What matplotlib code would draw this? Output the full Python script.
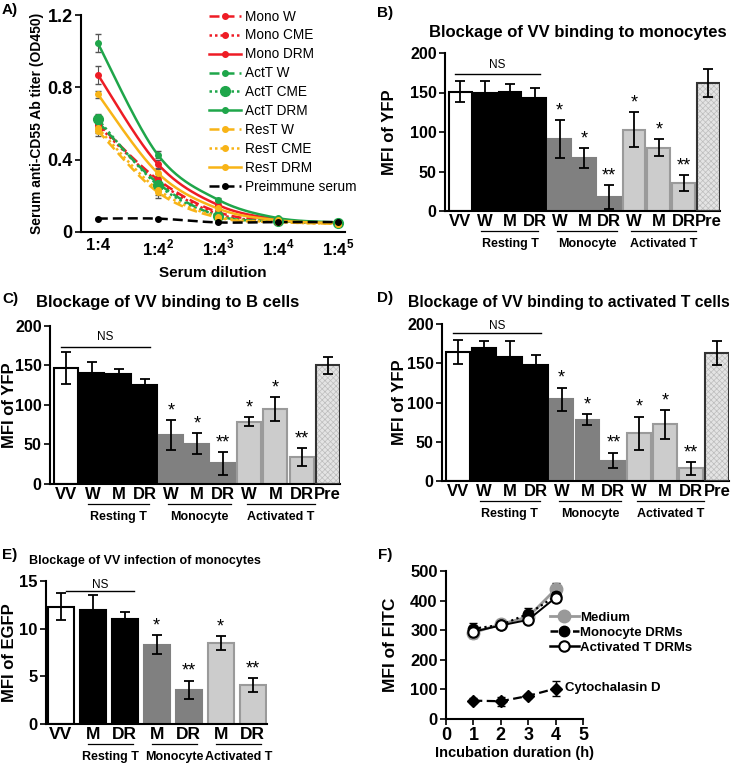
import numpy as np
import matplotlib
matplotlib.use("Agg")
import matplotlib.pyplot as plt
from matplotlib.transforms import blended_transform_factory

plt.rcParams['font.family'] = ['Liberation Sans', 'DejaVu Sans']
plt.rcParams['mathtext.fontset'] = 'custom'
plt.rcParams['mathtext.bf'] = 'Liberation Sans:bold'
plt.rcParams['mathtext.rm'] = 'Liberation Sans'
plt.rcParams['hatch.linewidth'] = 0.5

# ---------------- Data ----------------
# Panel A
dilution_exps = ['', '2', '3', '4', '5']
a_mono_w = [0.60, 0.29, 0.11, 0.06, 0.05]
a_mono_cme = [0.59, 0.28, 0.10, 0.06, 0.05]
a_mono_drm = [0.87, 0.376, 0.15, 0.07, 0.05]
a_act_w = [0.61, 0.27, 0.09, 0.06, 0.05]
a_act_cme = [0.624, 0.26, 0.09, 0.06, 0.05]
a_act_drm = [1.044, 0.427, 0.179, 0.077, 0.053]
a_res_w = [0.56, 0.22, 0.08, 0.055, 0.045]
a_res_cme = [0.575, 0.235, 0.085, 0.055, 0.045]
a_res_drm = [0.762, 0.326, 0.13, 0.065, 0.05]
a_pre = [0.074, 0.074, 0.053, 0.055, 0.055]
a_err_mono_drm = [0.05, 0.02, 0.01, 0.005, 0.005]
a_err_act_drm = [0.05, 0.02, 0.01, 0.005, 0.005]
a_err_res_drm = [0.02, 0.02, 0.01, 0.005, 0.005]
a_err_other = [0.03, 0.03, 0.01, 0.005, 0.005]

# Panels B, C, D
bar_labels = ['VV', 'W', 'M', 'DR', 'W', 'M', 'DR', 'W', 'M', 'DR', 'Pre']
b_vals = [151, 150, 151, 143, 91, 67, 18, 103, 80, 35, 162]
b_errs = [13, 15, 10, 13, 24, 13, 15, 22, 11, 10, 18]
c_vals = [147, 141, 139, 125, 62, 51, 26, 79, 95, 34, 150]
c_errs = [20, 14, 7, 8, 19, 13, 14, 6, 15, 11, 11]
d_vals = [164, 170, 158, 148, 104, 78, 26, 61, 72, 16, 163]
d_errs = [15, 8, 20, 13, 15, 7, 10, 21, 18, 8, 15]
bcd_stars = ['', '', '', '', '*', '*', '**', '*', '*', '**', '']
groups = ['Resting T', 'Monocyte', 'Activated T']

# Panel E
e_labels = ['VV', 'M', 'DR', 'M', 'DR', 'M', 'DR']
e_vals = [12.3, 12.0, 11.0, 8.3, 3.6, 8.5, 4.1]
e_errs = [1.4, 1.5, 0.7, 1.0, 0.95, 0.7, 0.75]
e_stars = ['', '', '', '*', '**', '*', '**']

# Panel F
f_time = [1, 2, 3, 4]
f_medium = [292, 320, 345, 438]
f_medium_err = [20, 10, 12, 20]
f_mono = [305, 318, 355, 415]
f_mono_err = [18, 10, 20, 15]
f_act = [295, 316, 335, 410]
f_act_err = [15, 8, 10, 15]
f_cyto = [62, 60, 78, 103]
f_cyto_err = [8, 15, 8, 25]

RED = '#EE1C25'
GREEN = '#1FA64A'
YEL = '#F8B417'

W, H = 750, 764
fig = plt.figure(figsize=(7.5, 7.64), dpi=100)


def add_ax(l, r, t, b):
    return fig.add_axes([l / W, 1 - b / H, (r - l) / W, (b - t) / H])


def style(ax, lw=1.5):
    for s in ['top', 'right']:
        ax.spines[s].set_visible(False)
    for s in ['left', 'bottom']:
        ax.spines[s].set_linewidth(lw)
        ax.spines[s].set_color('black')


def smooth(x, y, n=40):
    x = np.asarray(x, float)
    y = np.asarray(y, float)
    xs, ys = [], []
    m = len(x)
    for i in range(m - 1):
        p0 = np.array([x[max(i - 1, 0)], y[max(i - 1, 0)]])
        p1 = np.array([x[i], y[i]])
        p2 = np.array([x[i + 1], y[i + 1]])
        p3 = np.array([x[min(i + 2, m - 1)], y[min(i + 2, m - 1)]])
        t = np.linspace(0, 1, n)[:, None]
        c1 = p1 + (p2 - p0) / 6.0
        c2 = p2 - (p3 - p1) / 6.0
        pts = ((1 - t) ** 3) * p1 + 3 * ((1 - t) ** 2) * t * c1 + 3 * (1 - t) * t ** 2 * c2 + t ** 3 * p2
        xs.extend(pts[:, 0])
        ys.extend(pts[:, 1])
    return np.array(xs), np.array(ys)


# ---------------- Panel A ----------------
axA = add_ax(81, 345, 15, 232)
style(axA)
xa = np.arange(1, 6)
series = [
    ('Mono W', a_mono_w, RED, (0, (4, 2)), 4, a_err_other),
    ('Mono CME', a_mono_cme, RED, (0, (1, 1.2)), 4, a_err_other),
    ('Mono DRM', a_mono_drm, RED, '-', 4, a_err_mono_drm),
    ('ActT W', a_act_w, GREEN, (0, (4, 2)), 4, a_err_other),
    ('ActT CME', a_act_cme, GREEN, (0, (1, 1.2)), 7, a_err_other),
    ('ActT DRM', a_act_drm, GREEN, '-', 4, a_err_act_drm),
    ('ResT W', a_res_w, YEL, (0, (4, 2)), 4, a_err_other),
    ('ResT CME', a_res_cme, YEL, (0, (1, 1.2)), 4, a_err_other),
    ('ResT DRM', a_res_drm, YEL, '-', 4, a_err_res_drm),
    ('Preimmune serum', a_pre, 'black', (0, (4, 2)), 4, [0.003] * 5),
]
handles = []
for name, y, col, ls, ms, err in series:
    axA.errorbar(xa, y, yerr=err, fmt='none', ecolor='#555555', elinewidth=0.8, capsize=2, zorder=2)
    sx, sy = smooth(xa, y)
    axA.plot(sx, sy, color=col, ls=ls, lw=1.8, zorder=3)
    axA.plot(xa, y, ls='none', marker='o', ms=ms, color=col, zorder=4)
    h, = axA.plot([], [], color=col, ls=ls, lw=1.8, marker='o', ms=ms)
    handles.append(h)
axA.set_xlim(0.72, 5.12)
axA.set_ylim(0, 1.2)
axA.set_yticks([0, 0.4, 0.8, 1.2])
axA.set_yticklabels(['0', '0.4', '0.8', '1.2'], fontsize=13, fontweight='bold')
axA.set_xticks(xa)
axA.set_xticklabels(['1:4' + (r'$^{\mathbf{%s}}$' % e if e else '') for e in dilution_exps],
                    fontsize=12, fontweight='bold')
axA.tick_params(axis='x', length=0, pad=4)
axA.tick_params(axis='y', length=4, width=1.2, direction='out', pad=2)
axA.set_ylabel('Serum anti-CD55 Ab titer (OD450)', fontsize=10, fontweight='bold')
axA.yaxis.set_label_coords(-0.14, 0.5)
axA.set_xlabel('Serum dilution', fontsize=11, fontweight='bold', labelpad=6)
axA.legend(handles, [s[0] for s in series], loc='upper left', bbox_to_anchor=(0.465, 1.05),
           frameon=False, fontsize=9.8, handlelength=2.3, labelspacing=0.36, handletextpad=0.3,
           borderaxespad=0)
fig.text(2 / W, 1 - 10 / H, 'A)', fontsize=11, fontweight='bold', va='center', ha='left')


# ---------------- Bar panels ----------------
def bar_panel(ax, vals, errs, labels, stars, colors, edges, width, xlim, ylim, yticks,
              ns_x, ns_y, ns_text_y, grp_spans, tick_fs=12, ytick_fs=11.5):
    style(ax)
    x = np.arange(len(vals))
    for i in range(len(vals)):
        c = colors[i]
        if c == 'hatch':
            ax.bar(x[i], vals[i], width=width, color='#e4e4e4', edgecolor='#bdbdbd',
                   hatch='xxxxxx', linewidth=0, zorder=2)
            ax.bar(x[i], vals[i], width=width, fill=False, edgecolor='#333333', linewidth=1.5, zorder=3)
        else:
            ax.bar(x[i], vals[i], width=width, color=c, edgecolor=edges[i], linewidth=1.5, zorder=2)
    ax.errorbar(x, vals, yerr=errs, fmt='none', ecolor='black', elinewidth=1.3, capsize=3.5,
                capthick=1.3, zorder=4)
    for i, s in enumerate(stars):
        if s:
            ax.text(x[i], vals[i] + errs[i] + (ylim[1] * 0.005), s, ha='center', va='bottom',
                    fontsize=13, zorder=5)
    ax.set_xlim(*xlim)
    ax.set_ylim(*ylim)
    ax.set_yticks(yticks)
    ax.set_yticklabels([str(v) for v in yticks], fontsize=ytick_fs, fontweight='bold')
    ax.set_xticks(x)
    ax.set_xticklabels(labels, fontsize=tick_fs, fontweight='bold')
    ax.tick_params(axis='x', length=0, pad=2)
    ax.tick_params(axis='y', length=4, width=1.2, direction='out', pad=2)
    ax.plot(ns_x, [ns_y, ns_y], color='black', lw=1.0, clip_on=False, zorder=5)
    ax.text(np.mean(ns_x), ns_text_y, 'NS', ha='center', va='center', fontsize=8.5)
    trans = blended_transform_factory(ax.transData, ax.transAxes)
    axh = ax.get_position().height * H
    for (a0, a1), g in zip(grp_spans, groups):
        ax.plot([a0, a1], [-20 / axh, -20 / axh], color='black', lw=0.9, transform=trans, clip_on=False)
        ax.text((a0 + a1) / 2, -33 / axh, g, transform=trans, ha='center', va='center',
                fontsize=9, fontweight='bold')


bcd_colors = ['white', 'black', 'black', 'black', '#808080', '#808080', '#808080',
              '#cccccc', '#cccccc', '#cccccc', 'hatch']
bcd_edges = ['black', 'black', 'black', 'black', '#808080', '#808080', '#808080',
             '#9a9a9a', '#9a9a9a', '#9a9a9a', 'black']
spans11 = [(0.85, 3.15), (3.9, 6.3), (6.9, 9.5)]

axB = add_ax(445, 720, 53, 211)
bar_panel(axB, b_vals, b_errs, bar_labels, bcd_stars, bcd_colors, bcd_edges, 0.92,
          (-0.62, 10.47), (0, 200), [0, 50, 100, 150, 200], (-0.2, 3.2), 173, 185, spans11)
axB.set_ylabel('MFI of YFP', fontsize=12, fontweight='bold')
axB.yaxis.set_label_coords(-0.175, 0.5)
fig.text(429 / W, 1 - 33 / H, 'Blockage of VV binding to monocytes', fontsize=12,
         fontweight='bold', ha='left', va='center')
fig.text(377 / W, 1 - 13 / H, 'B)', fontsize=11, fontweight='bold', va='center', ha='left')

axC = add_ax(50, 340, 326, 484)
bar_panel(axC, c_vals, c_errs, bar_labels, bcd_stars, bcd_colors, bcd_edges, 0.92,
          (-0.62, 10.47), (0, 200), [0, 50, 100, 150, 200], (-0.2, 3.2), 174, 186, spans11)
axC.set_ylabel('MFI of YFP', fontsize=12, fontweight='bold')
axC.yaxis.set_label_coords(-0.114, 0.5)
fig.text(36 / W, 1 - 303 / H, 'Blockage of VV binding to B cells', fontsize=12,
         fontweight='bold', ha='left', va='center')
fig.text(2 / W, 1 - 299 / H, 'C)', fontsize=11, fontweight='bold', va='center', ha='left')

axD = add_ax(442, 729, 324, 481)
bar_panel(axD, d_vals, d_errs, bar_labels, bcd_stars, bcd_colors, bcd_edges, 0.92,
          (-0.62, 10.47), (0, 200), [0, 50, 100, 150, 200], (-0.2, 3.2), 188, 198, spans11)
axD.set_ylabel('MFI of YFP', fontsize=12, fontweight='bold')
axD.yaxis.set_label_coords(-0.122, 0.5)
fig.text(408 / W, 1 - 302 / H, 'Blockage of VV binding to activated T cells', fontsize=11.3,
         fontweight='bold', ha='left', va='center')
fig.text(377 / W, 1 - 298 / H, 'D)', fontsize=11, fontweight='bold', va='center', ha='left')

axE = add_ax(46, 267, 581, 724)
e_colors = ['white', 'black', 'black', '#808080', '#808080', '#cccccc', '#cccccc']
e_edges = ['black', 'black', 'black', '#808080', '#808080', '#9a9a9a', '#9a9a9a']
bar_panel(axE, e_vals, e_errs, e_labels, e_stars, e_colors, e_edges, 0.81,
          (-0.46, 6.45), (0, 15), [0, 5, 10, 15], (0.15, 2.3), 14.0, 14.6,
          [(0.85, 2.25), (2.85, 4.25), (4.85, 6.25)], tick_fs=12.5, ytick_fs=12)
axE.set_ylabel('MFI of EGFP', fontsize=12, fontweight='bold')
axE.yaxis.set_label_coords(-0.131, 0.5)
fig.text(29 / W, 1 - 561 / H, 'Blockage of VV infection of monocytes', fontsize=9,
         fontweight='bold', ha='left', va='center')
fig.text(2 / W, 1 - 555 / H, 'E)', fontsize=11, fontweight='bold', va='center', ha='left')

# ---------------- Panel F ----------------
axF = add_ax(446, 583, 571, 719)
style(axF)
axF.errorbar(f_time, f_medium, yerr=f_medium_err, color='#999999', lw=2, marker='o', ms=9,
             mfc='#999999', mec='#999999', capsize=3, ecolor='black', elinewidth=1, zorder=3)
axF.errorbar(f_time, f_mono, yerr=f_mono_err, color='black', lw=1.6, ls=(0, (1, 1.5)), marker='o', ms=7.5,
             mfc='black', mec='black', capsize=3, elinewidth=1, zorder=4)
axF.errorbar(f_time, f_act, yerr=f_act_err, color='black', lw=1.4, ls='-', marker='o', ms=7.5,
             mfc='white', mec='black', mew=1.5, capsize=3, elinewidth=1, zorder=5)
axF.errorbar(f_time, f_cyto, yerr=f_cyto_err, color='black', lw=1.6, ls=(0, (4, 2)), marker='D', ms=6,
             mfc='black', mec='black', capsize=3, elinewidth=1, zorder=4)
axF.text(4.34, f_cyto[-1] + 2, 'Cytochalasin D', fontsize=9.5, fontweight='bold', va='center', ha='left')
h1, = axF.plot([], [], color='#999999', lw=2, marker='o', ms=9)
h2, = axF.plot([], [], color='black', lw=1.8, ls=(0, (3, 1.5)), marker='o', ms=7.5)
h3, = axF.plot([], [], color='black', lw=1.8, ls='-', marker='o', ms=7.5, mfc='white', mew=1.5)
axF.legend([h1, h2, h3], ['Medium', 'Monocyte DRMs', 'Activated T DRMs'], loc='upper left',
           bbox_to_anchor=(0.72, 0.76), frameon=False, prop={'weight': 'bold', 'size': 9.5},
           handlelength=2.2, handletextpad=0.1, labelspacing=0.2, borderaxespad=0)
axF.set_xlim(0, 5)
axF.set_ylim(0, 500)
axF.set_xticks([0, 1, 2, 3, 4, 5])
axF.set_xticklabels(['0', '1', '2', '3', '4', '5'], fontsize=13, fontweight='bold')
axF.set_yticks([0, 100, 200, 300, 400, 500])
axF.set_yticklabels(['0', '100', '200', '300', '400', '500'], fontsize=12, fontweight='bold')
axF.tick_params(axis='both', length=4, width=1.2, direction='out', pad=2)
axF.set_xlabel('Incubation duration (h)', fontsize=10.5, fontweight='bold', labelpad=1)
axF.set_ylabel('MFI of FITC', fontsize=12.5, fontweight='bold')
axF.yaxis.set_label_coords(-0.35, 0.5)
fig.text(378 / W, 1 - 555 / H, 'F)', fontsize=11, fontweight='bold', va='center', ha='left')

fig.savefig('out.png', dpi=100)
